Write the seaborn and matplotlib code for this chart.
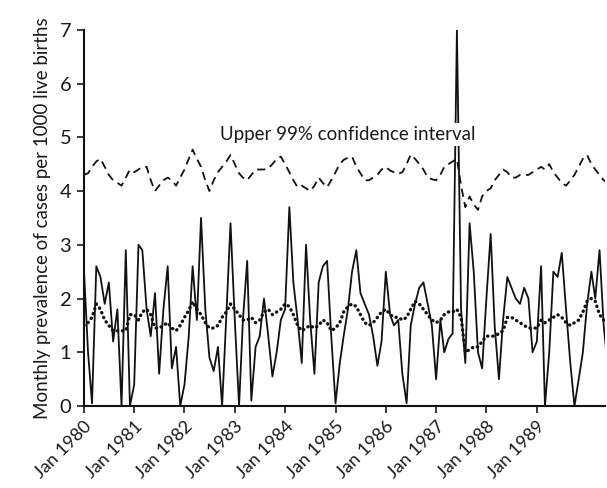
import numpy as np
import pandas as pd
import matplotlib
matplotlib.use("Agg")
import matplotlib.pyplot as plt
import seaborn as sns

# monthly values, Jan 1980 onwards
observed = [2.6, 1.0, 0.05, 2.6, 2.4, 1.9, 2.3, 1.2, 1.8, 0.0, 2.9, 0.0,
            0.4, 3.0, 2.9, 1.8, 1.3, 2.1, 0.6, 1.8, 2.6, 0.7, 1.1, 0.0,
            0.4, 1.3, 2.6, 1.6, 3.5, 1.8, 0.9, 0.65, 1.1, 0.0, 1.7, 3.4,
            1.6, 0.0, 1.6, 2.7, 0.1, 1.1, 1.3, 2.0, 1.3, 0.55, 1.0, 1.6,
            1.8, 3.7, 2.3, 1.6, 0.8, 3.0, 1.6, 0.6, 2.3, 2.6, 2.7, 1.3,
            0.05, 0.8, 1.3, 1.8, 2.5, 2.9, 2.1, 1.9, 1.7, 1.3, 0.75, 1.2,
            2.5, 1.7, 1.5, 1.6, 0.6, 0.05, 1.5, 1.9, 2.2, 2.3, 1.9, 1.5,
            0.5, 1.6, 1.0, 1.25, 1.35, 7.0, 1.8, 0.8, 3.4, 2.5, 1.0, 0.7,
            2.0, 3.2, 1.5, 0.5, 1.6, 2.4, 2.2, 2.0, 1.9, 2.2, 2.0, 1.0,
            1.2, 2.6, 0.0, 1.0, 2.5, 2.4, 2.85, 1.8, 0.8, 0.0, 0.5, 1.0,
            1.9, 2.5, 2.0, 2.9, 1.5, 0.7]

expected = [1.5, 1.55, 1.65, 1.9, 1.8, 1.6, 1.5, 1.4, 1.4, 1.4, 1.4, 1.7,
            1.7, 1.6, 1.75, 1.8, 1.7, 1.45, 1.45, 1.5, 1.55, 1.45, 1.4, 1.5,
            1.65, 1.78, 1.94, 1.8, 1.7, 1.55, 1.45, 1.45, 1.5, 1.65, 1.75, 1.9,
            1.8, 1.7, 1.6, 1.6, 1.65, 1.55, 1.6, 1.75, 1.8, 1.7, 1.75, 1.8,
            1.9, 1.85, 1.7, 1.5, 1.4, 1.45, 1.5, 1.45, 1.5, 1.6, 1.55, 1.4,
            1.45, 1.55, 1.75, 1.85, 1.9, 1.85, 1.7, 1.55, 1.5, 1.55, 1.65, 1.75,
            1.8, 1.7, 1.65, 1.65, 1.6, 1.65, 1.8, 1.95, 1.9, 1.8, 1.7, 1.6,
            1.55, 1.6, 1.7, 1.75, 1.75, 1.8, 1.65, 1.0, 1.05, 1.1, 1.1, 1.2,
            1.3, 1.3, 1.3, 1.35, 1.4, 1.65, 1.65, 1.6, 1.55, 1.5, 1.45, 1.45,
            1.45, 1.6, 1.55, 1.6, 1.65, 1.7, 1.65, 1.55, 1.5, 1.55, 1.6, 1.75,
            1.95, 2.0, 1.95, 1.7, 1.6, 1.55]

upper_ci = [4.3, 4.33, 4.45, 4.55, 4.6, 4.45, 4.3, 4.2, 4.15, 4.1, 4.25, 4.4,
            4.35, 4.4, 4.45, 4.45, 4.2, 4.0, 4.1, 4.2, 4.25, 4.2, 4.1, 4.25,
            4.4, 4.6, 4.77, 4.6, 4.45, 4.2, 4.0, 4.2, 4.35, 4.45, 4.55, 4.67,
            4.5, 4.33, 4.25, 4.2, 4.3, 4.4, 4.4, 4.4, 4.42, 4.5, 4.6, 4.64,
            4.5, 4.35, 4.2, 4.07, 4.1, 4.05, 4.0, 4.1, 4.25, 4.15, 4.07, 4.2,
            4.35, 4.5, 4.58, 4.62, 4.64, 4.45, 4.33, 4.2, 4.2, 4.25, 4.3, 4.4,
            4.45, 4.38, 4.35, 4.32, 4.35, 4.5, 4.68, 4.6, 4.5, 4.4, 4.25, 4.22,
            4.2, 4.3, 4.45, 4.5, 4.55, 4.6, 4.1, 3.7, 3.9, 3.75, 3.65, 3.9,
            4.0, 4.05, 4.2, 4.3, 4.4, 4.35, 4.25, 4.25, 4.3, 4.3, 4.3, 4.35,
            4.4, 4.45, 4.4, 4.5, 4.35, 4.25, 4.15, 4.1, 4.2, 4.3, 4.45, 4.6,
            4.67, 4.5, 4.4, 4.3, 4.2, 4.15]

years = list(range(1980, 1990))
tick_labels = ["Jan %d" % y for y in years]

months = pd.date_range("1980-01-01", periods=len(observed), freq="MS")
df = pd.DataFrame({"month": months, "observed": observed,
                   "expected": expected, "upper": upper_ci})

sns.set_style("ticks")
plt.rcParams["font.family"] = ["Lato", "DejaVu Sans"]

fig = plt.figure(figsize=(6.07, 4.88), dpi=100)
ax = fig.add_axes([0.138, 0.168, 0.859, 0.771])

sns.lineplot(data=df, x="month", y="upper", ax=ax, color="#111111",
             linewidth=1.3, linestyle=(0, (4.5, 3)))
sns.lineplot(data=df, x="month", y="observed", ax=ax, color="#111111",
             linewidth=1.3)
sns.lineplot(data=df, x="month", y="expected", ax=ax, color="#111111",
             linewidth=2.4, linestyle=(0, (0.1, 1.45)), dash_capstyle="round")

# label sits on a white box that hides the spike behind it
ax.text(pd.Timestamp("1985-04-01"), 5.05, "Upper 99% confidence interval",
        ha="center", va="center", fontsize=13.5, color="#1a1a1a", zorder=10,
        bbox=dict(facecolor="white", edgecolor="none", pad=2))

ax.set_ylim(0, 7)
ax.set_yticks(range(0, 8))
ax.set_xlim(months[0], pd.Timestamp("1990-05-12"))
ax.set_xticks([pd.Timestamp("%d-01-01" % y) for y in years])
ax.set_xticklabels(tick_labels, rotation=45, ha="right", rotation_mode="anchor")
ax.tick_params(axis="both", colors="#1a1a1a", length=5, width=1.2)
ax.tick_params(axis="x", labelsize=13, pad=4)
ax.tick_params(axis="y", labelsize=14.5, pad=4)

ax.set_xlabel("")
ax.set_ylabel("Monthly prevalence of cases per 1000 live births", fontsize=13.5,
              color="#1a1a1a", labelpad=6)
for s in ["left", "bottom"]:
    ax.spines[s].set_linewidth(1.5)
    ax.spines[s].set_color("#111111")
sns.despine(ax=ax)

fig.savefig("out.png", dpi=100)
